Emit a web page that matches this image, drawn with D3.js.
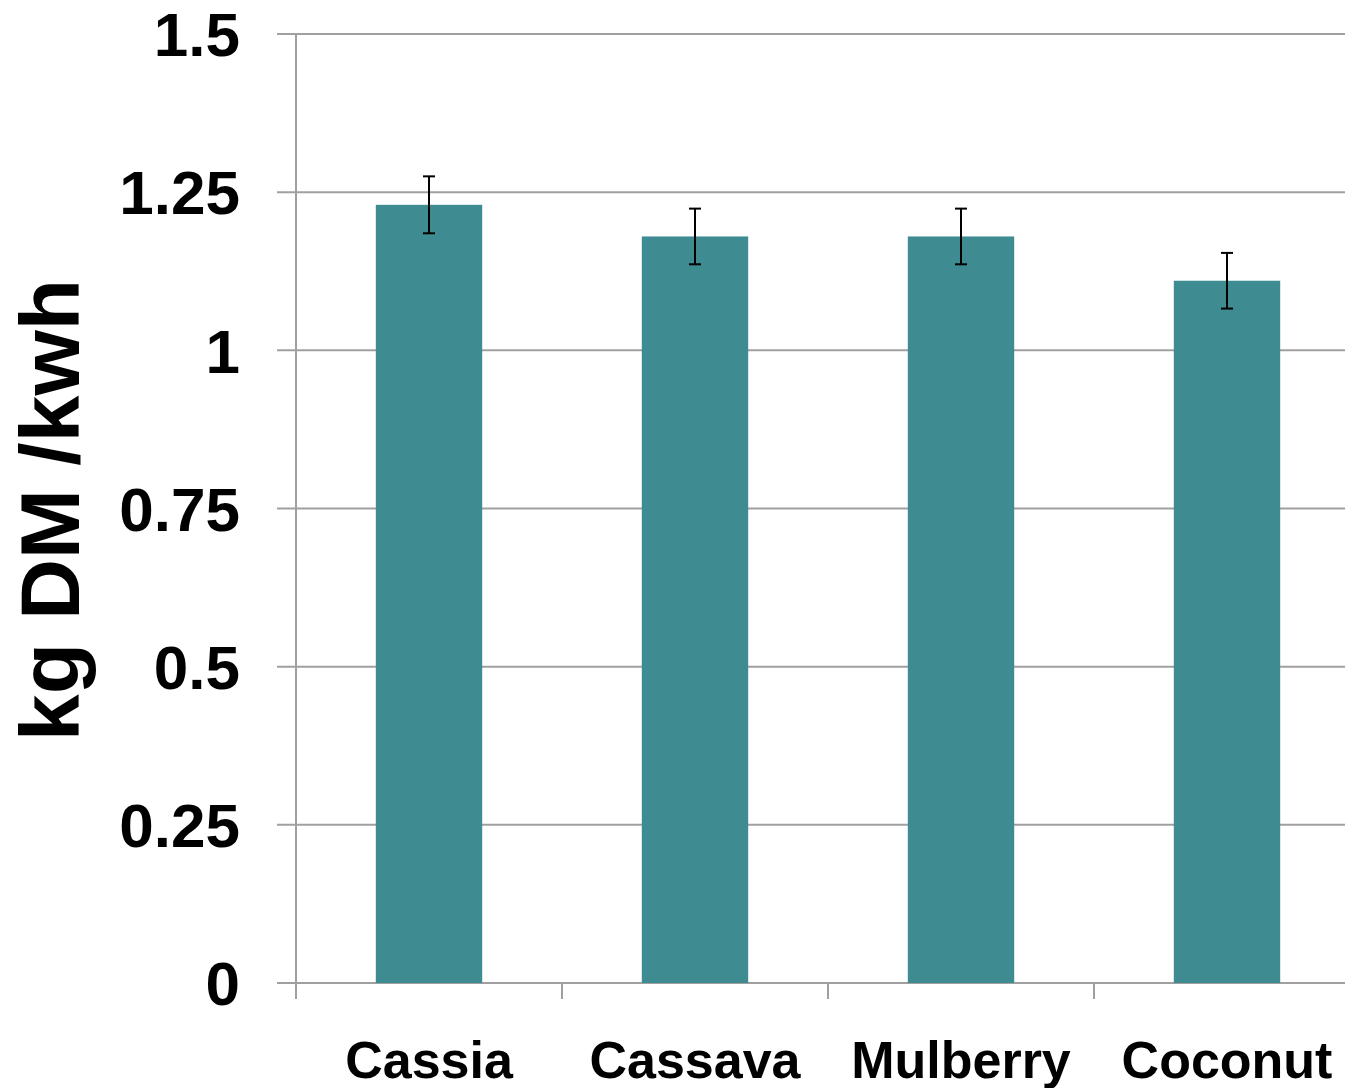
<!DOCTYPE html>
<html><head><meta charset="utf-8">
<script src="https://cdn.jsdelivr.net/npm/d3@7"></script>
<style>body{margin:0;background:#fff}</style>
</head><body>
<svg id="c" width="1345" height="1088"></svg>
<script>
const categories = ["Cassia","Cassava","Mulberry","Coconut"];
const values = [1.23, 1.18, 1.18, 1.11];
const errors = [0.045, 0.044, 0.044, 0.044];
const yTicks = [0, 0.25, 0.5, 0.75, 1, 1.25, 1.5];
const yTickLabels = ["0","0.25","0.5","0.75","1","1.25","1.5"];
const yTitle = "kg DM /kwh";

const svg = d3.select("#c");
const font = "'Liberation Sans', Arial, sans-serif";
const y = d3.scaleLinear().domain([0,1.5]).range([983,34]);
const x = d3.scaleBand().domain(categories).range([296,1360]).paddingInner(0.6).paddingOuter(0.3);
const gridColor = "#a0a0a0";

// gridlines
svg.append("g").selectAll("line").data(yTicks).join("line")
  .attr("x1",277).attr("x2",1345)
  .attr("y1",d=>y(d)).attr("y2",d=>y(d))
  .attr("stroke",gridColor).attr("stroke-width",2);

// y axis line
svg.append("line").attr("x1",296).attr("x2",296).attr("y1",y(1.5)).attr("y2",999)
  .attr("stroke",gridColor).attr("stroke-width",2);

// x ticks at band boundaries
const bounds = categories.map(c=>x(c)-x.step()*x.paddingInner()/2);
bounds.push(1360);
svg.append("g").selectAll("line").data(bounds).join("line")
  .attr("x1",d=>d).attr("x2",d=>d).attr("y1",983).attr("y2",999)
  .attr("stroke",gridColor).attr("stroke-width",2);

// bars
svg.append("g").selectAll("rect").data(values).join("rect")
  .attr("x",(d,i)=>x(categories[i])).attr("width",x.bandwidth())
  .attr("y",d=>y(d)).attr("height",d=>y(0)-y(d))
  .attr("fill","#3e8c92");

// error bars
const eg = svg.append("g").attr("stroke","#000").attr("stroke-width",2);
values.forEach((v,i)=>{
  const cx = x(categories[i]) + x.bandwidth()/2;
  eg.append("line").attr("x1",cx).attr("x2",cx).attr("y1",y(v+errors[i])).attr("y2",y(v-errors[i]));
  eg.append("line").attr("x1",cx-6).attr("x2",cx+6).attr("y1",y(v+errors[i])).attr("y2",y(v+errors[i]));
  eg.append("line").attr("x1",cx-6).attr("x2",cx+6).attr("y1",y(v-errors[i])).attr("y2",y(v-errors[i]));
});

// y tick labels
svg.append("g").selectAll("text").data(yTicks).join("text")
  .attr("x",240).attr("y",d=>y(d)).attr("dy","0.36em")
  .attr("text-anchor","end").attr("font-family",font).attr("font-weight","bold")
  .attr("font-size",62).attr("fill","#000")
  .text((d,i)=>yTickLabels[i]);

// x labels
svg.append("g").selectAll("text").data(categories).join("text")
  .attr("x",d=>x(d)+x.bandwidth()/2).attr("y",1078)
  .attr("text-anchor","middle").attr("font-family",font).attr("font-weight","bold")
  .attr("font-size",52).attr("fill","#000")
  .text(d=>d);

// y title
svg.append("text").attr("transform","translate(79,510) rotate(-90)")
  .attr("text-anchor","middle").attr("font-family",font).attr("font-weight","bold")
  .attr("font-size",84).attr("fill","#000").text(yTitle);
</script>
</body></html>
